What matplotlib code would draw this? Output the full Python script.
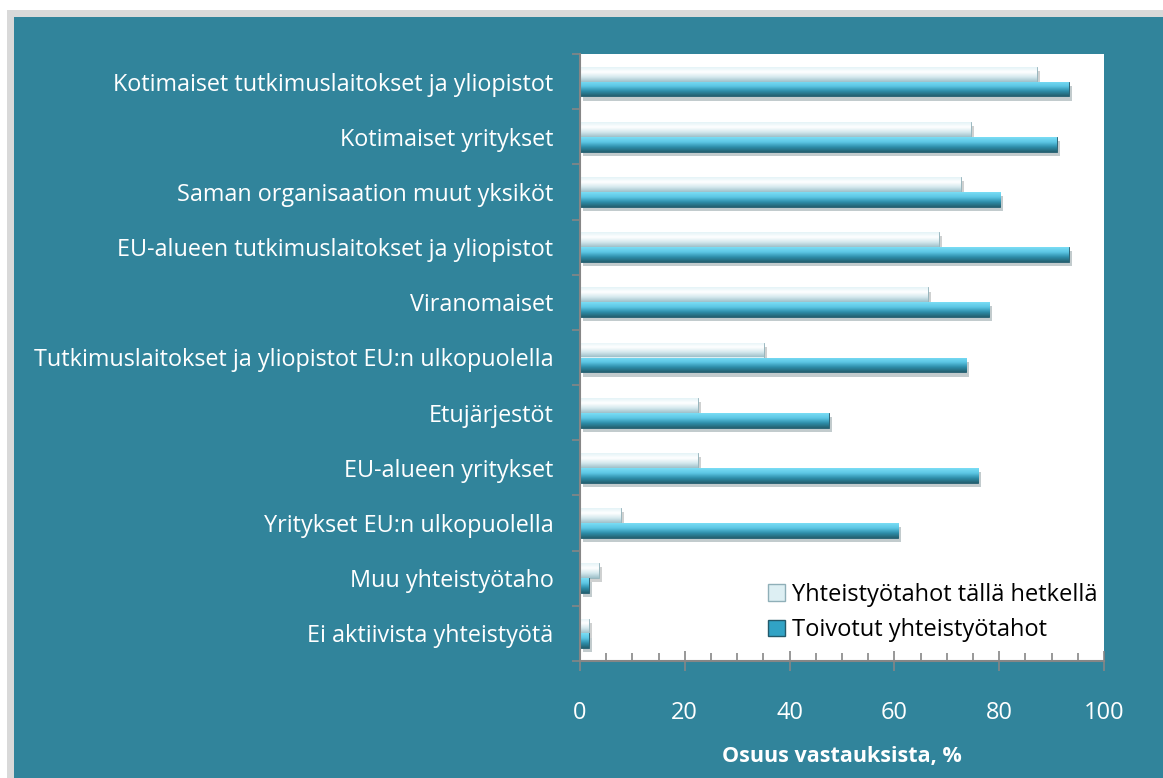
import numpy as np
import matplotlib.pyplot as plt
import matplotlib.patches as mpatches
import matplotlib.patheffects as pe
from matplotlib.colors import LinearSegmentedColormap

categories = [
    "Kotimaiset tutkimuslaitokset ja yliopistot",
    "Kotimaiset yritykset",
    "Saman organisaation muut yksiköt",
    "EU-alueen tutkimuslaitokset ja yliopistot",
    "Viranomaiset",
    "Tutkimuslaitokset ja yliopistot EU:n ulkopuolella",
    "Etujärjestöt",
    "EU-alueen yritykset",
    "Yritykset EU:n ulkopuolella",
    "Muu yhteistyötaho",
    "Ei aktiivista yhteistyötä",
]
current = [87.2, 74.6, 72.7, 68.5, 66.4, 35.1, 22.5, 22.5, 7.8, 3.6, 1.7]
wished = [93.3, 91.0, 80.2, 93.3, 78.1, 73.7, 47.5, 76.0, 60.7, 1.7, 1.7]
series_names = ["Yhteistyötahot tällä hetkellä", "Toivotut yhteistyötahot"]
xticks = [0, 20, 40, 60, 80, 100]

plt.rcParams['font.family'] = ['Open Sans', 'DejaVu Sans']

teal = "#31849B"
fig = plt.figure(figsize=(11.63, 7.78), dpi=100)
fig.patch.set_facecolor("white")
# grey frame and teal panel behind the chart
fig.patches.append(mpatches.Rectangle((7 / 1163, 0), 1, 1 - 10 / 778, transform=fig.transFigure,
                                      facecolor="#D9D9D9", edgecolor="none", zorder=-2))
fig.patches.append(mpatches.Rectangle((14 / 1163, 0), 1, 1 - 17 / 778, transform=fig.transFigure,
                                      facecolor=teal, edgecolor="none", zorder=-1))

ax = fig.add_axes([580 / 1163, 1 - 661 / 778, 524 / 1163, 607 / 778])
ax.set_facecolor("white")

y = np.arange(len(categories))
h = 0.27
light_cmap = LinearSegmentedColormap.from_list("l", ["#E4F3F7", "#FFFFFF", "#D5E9EE", "#9EC0C9"])
dark_cmap = LinearSegmentedColormap.from_list("d", ["#7ADDF5", "#5CC6E4", "#2E8EAA", "#24606F"])

shadow = [pe.SimplePatchShadow(offset=(2, -3), alpha=0.25), pe.Normal()]
bars1 = ax.barh(y - h / 2, current, height=h, color="#DDEFF3", edgecolor="#8FAFB8", linewidth=0.6,
                path_effects=shadow)
bars2 = ax.barh(y + h / 2, wished, height=h, color="#31A3C5", edgecolor="#23596A", linewidth=0.6,
                path_effects=shadow)

grad = np.linspace(0, 1, 64).reshape(-1, 1)
for bars, cmap in ((bars1, light_cmap), (bars2, dark_cmap)):
    for b in bars:
        x0, y0 = b.get_x(), b.get_y()
        w, hh = b.get_width(), b.get_height()
        im = ax.imshow(grad, cmap=cmap, aspect="auto", extent=(x0, x0 + w, y0 + hh, y0),
                       zorder=2.1, interpolation="bilinear")
        im.set_clip_path(b)

ax.set_xlim(0, 100)
ax.set_ylim(len(categories) - 0.5, -0.5)
ax.set_xticks(xticks)
ax.set_xticks(np.arange(0, 101, 5), minor=True)
ax.set_yticks(y)
ax.set_yticklabels(categories)
ax.set_yticks(np.arange(-0.5, len(categories), 1), minor=True)

for s in ("top", "right"):
    ax.spines[s].set_visible(False)
for s in ("left", "bottom"):
    ax.spines[s].set_color("#868686")
    ax.spines[s].set_linewidth(1.5)

ax.tick_params(axis="y", which="major", length=0, pad=19, labelsize=16.8, labelcolor="white")
ax.tick_params(axis="y", which="minor", length=6, width=1.2, color="#868686", direction="out")
ax.tick_params(axis="x", which="major", length=14, width=1.2, color="#868686", direction="inout",
               labelsize=17, labelcolor="white", pad=22)
ax.tick_params(axis="x", which="minor", length=6, width=1.2, color="#868686", direction="in")

ax.set_xlabel("Osuus vastauksista, %", fontsize=15.5, fontweight="bold", color="white", labelpad=15)

handles = [mpatches.Patch(facecolor="#DDEFF3", edgecolor="#8FAFB8"),
           mpatches.Patch(facecolor="#31A3C5", edgecolor="#23596A")]
ax.legend(handles, series_names, loc="lower right", bbox_to_anchor=(1.005, 0.015), frameon=False,
          fontsize=17, handlelength=0.7, handleheight=0.7, handletextpad=0.3, labelspacing=0.5,
          borderaxespad=0.0)

fig.savefig("out.png", dpi=100)
